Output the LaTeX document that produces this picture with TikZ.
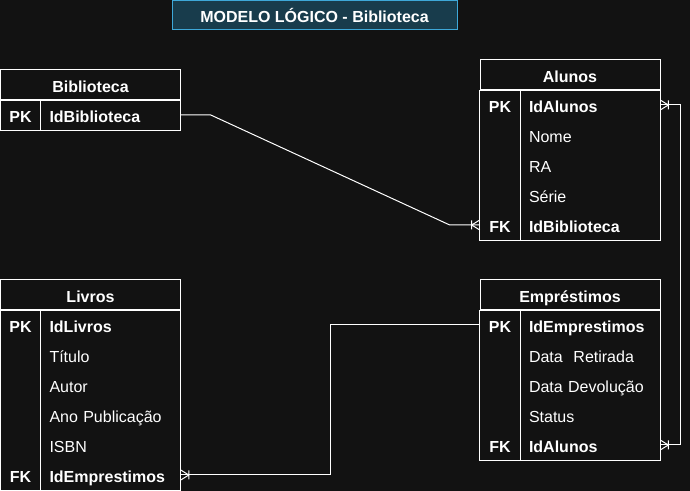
\documentclass[tikz,border=0pt]{standalone}
\usepackage{fontspec}
\setmainfont{Liberation Sans}
\definecolor{bg}{RGB}{18,18,18}
\definecolor{titlefill}{RGB}{24,60,76}
\definecolor{titleline}{RGB}{62,168,216}
\newcommand\tfont{\fontsize{12}{14.4}\selectfont}
\tikzset{
  txt/.style={text=white, text height=12pt, text depth=1.2pt},
  hdr/.style={txt, draw=white, line width=0.75pt, minimum width=135pt, minimum height=22.5pt,
    inner sep=0pt, font=\tfont\bfseries},
  key/.style={txt, minimum width=30pt, minimum height=22.5pt, inner sep=0pt,
    font=\tfont\bfseries},
  fld/.style={txt, minimum height=22.5pt, inner ysep=0pt, inner xsep=6.75pt, text width=91.5pt,
    align=left, font=\tfont},
  fldb/.style={fld, font=\tfont\bfseries},
  link/.style={draw=white, line width=0.75pt},
  crow/.pic={\draw[link] (0,5) -- (8,0) -- (0,-5) (8,4.5) -- (8,-4.5);}
}
\begin{document}
\begin{tikzpicture}[x=0.75pt, y=-0.75pt]
    \fill[bg] (0,0) rectangle (690,491);
    \useasboundingbox (0,0) rectangle (690,491);

    \node[txt, draw=titleline, fill=titlefill, line width=0.75pt, minimum width=213.75pt,
      minimum height=21.75pt, inner sep=0pt, font=\tfont\bfseries] (title) at (314.5,15.5)
      {MODELO LÓGICO - Biblioteca};

    % Biblioteca
    \node[hdr] (bi-h) at (90.5,85) {Biblioteca};
    \node[key] (bi-k1) at (20.5,115) {PK};
    \node[fldb] (bi-n1) at (110.5,115) {IdBiblioteca};
    \draw[link] (bi-h.south west) rectangle (bi-n1.south east)
      (bi-k1.north east) -- (bi-k1.south east);

    % Alunos
    \node[hdr] (al-h) at (570,75) {Alunos};
    \node[key] (al-k1) at (500,105) {PK};
    \node[fldb] (al-n1) at (590,105) {IdAlunos};
    \node[fld] (al-n2) at (590,135) {Nome};
    \node[fld] (al-n3) at (590,165) {RA};
    \node[fld] (al-n4) at (590,195) {Série};
    \node[key] (al-k5) at (500,225) {FK};
    \node[fldb] (al-n5) at (590,225) {IdBiblioteca};
    \draw[link] (al-h.south west) rectangle (al-n5.south east)
      (al-k1.north east) -- (al-k5.south east);

    % Livros
    \node[hdr] (li-h) at (90.5,295) {Livros};
    \node[key] (li-k1) at (20.5,325) {PK};
    \node[fldb] (li-n1) at (110.5,325) {IdLivros};
    \node[fld] (li-n2) at (110.5,355) {Título};
    \node[fld] (li-n3) at (110.5,385) {Autor};
    \node[fld] (li-n4) at (110.5,415) {Ano Publicação};
    \node[fld] (li-n5) at (110.5,445) {ISBN};
    \node[key] (li-k6) at (20.5,475) {FK};
    \node[fldb] (li-n6) at (110.5,475) {IdEmprestimos};
    \draw[link] (li-h.south west) rectangle (li-n6.south east)
      (li-k1.north east) -- (li-k6.south east);

    % Emprestimos
    \node[hdr] (em-h) at (570,295) {Empréstimos};
    \node[key] (em-k1) at (500,325) {PK};
    \node[fldb] (em-n1) at (590,325) {IdEmprestimos};
    \node[fld] (em-n2) at (590,355) {Data\ \ Retirada};
    \node[fld] (em-n3) at (590,385) {Data Devolução};
    \node[fld] (em-n4) at (590,415) {Status};
    \node[key] (em-k5) at (500,445) {FK};
    \node[fldb] (em-n5) at (590,445) {IdAlunos};
    \draw[link] (em-h.south west) rectangle (em-n5.south east)
      (em-k1.north east) -- (em-k5.south east);

    % ligacoes
    \draw[link] (bi-n1.east) -- ++(30,0) -- ([xshift=-22.5pt]al-k5.west) -- (al-k5.west);
    \pic[rotate=180] at (al-k5.west) {crow};

    \draw[link] (al-n1.east) -- ++(20,0) |- (em-n5.east);
    \pic at (al-n1.east) {crow};
    \pic at (em-n5.east) {crow};

    \draw[link] (li-n6.east) -- ++(150,0) |- (em-k1.west);
    \pic at (li-n6.east) {crow};
\end{tikzpicture}
\end{document}
